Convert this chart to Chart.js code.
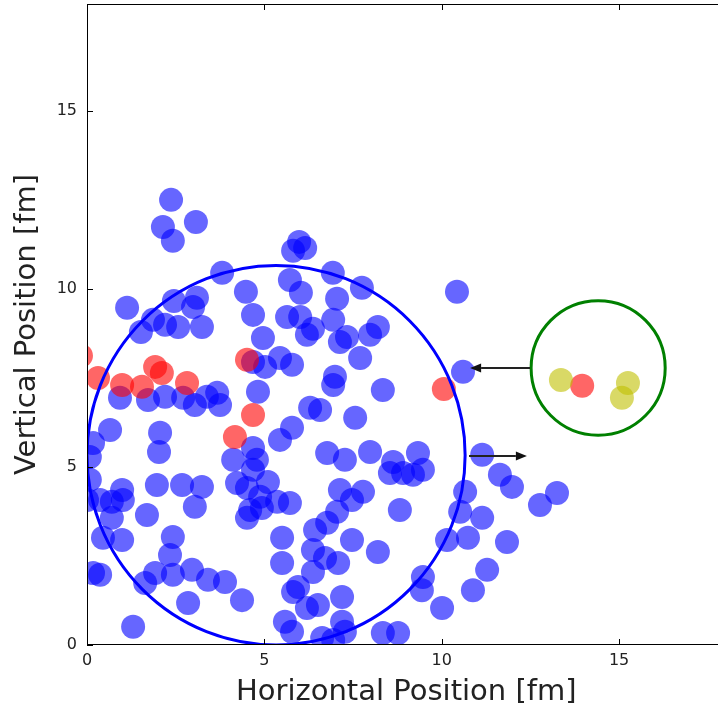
<!DOCTYPE html>
<html>
<head>
<meta charset="utf-8">
<script src="https://cdn.jsdelivr.net/npm/chart.js@4.4.0/dist/chart.umd.min.js"></script>
<style>
  html, body { margin: 0; padding: 0; overflow: hidden; background: #fff; }
  canvas { display: block; }
</style>
</head>
<body>
<canvas id="chart" width="730" height="713"></canvas>
<script>
// --- données (fm) ---
const blueX = [2.37, 2.14, 3.07, 2.42, 3.81, 5.98, 5.81, 6.15, 6.93, 7.75, 10.43, 4.48, 5.72, 1.13, 2.45, 3.10, 2.99, 4.68,
  6.03, 7.05, 5.64, 6.01, 6.94, 8.20, 6.37, 3.24, 2.57, 2.20, 1.52, 1.86, 4.96, 7.33, 7.98, 6.20, 7.13, 7.70,
  5.44, 5.78, 4.68, 5.02, 4.82, 6.99, 6.94, 8.34, 10.60, 0.93, 1.72, 2.20, 2.71, 3.04, 3.38, 3.67, 3.75,
  6.29, 6.57, 7.56, 5.78, 5.44, 0.65, 2.06, 0.17, 2.03, 0.08, 4.12, 4.68, 4.79, 4.68, 6.77, 7.27, 7.98,
  8.63, 8.54, 8.91, 9.33, 9.47, 9.19, 11.14, 11.64, 11.98, 13.25, 12.77, 10.66, 10.52, 11.14, 10.15, 10.74,
  11.84, 11.28, 10.88, 10.01, 9.47, 9.44, 0.99, 1.97, 2.68, 3.24, 4.23, 4.51, 4.88, 5.10, 0.08, 0.00,
  0.70, 0.37, 1.01, 0.70, 1.69, 3.04, 4.60, 4.51, 4.93, 5.36, 5.72, 0.45, 0.99, 2.42, 2.34, 0.17, 0.37,
  1.64, 1.92, 2.42, 2.96, 3.41, 3.89, 4.37, 2.85, 1.30, 5.50, 5.50, 5.58, 7.13, 7.78, 7.47, 8.82, 7.05,
  6.77, 6.43, 7.47, 8.20, 6.37, 6.71, 7.08, 6.37, 5.95, 5.81, 7.19, 6.20, 6.51, 5.78, 7.19, 7.27, 8.34,
  8.77, 6.63, 6.94];
const blueY = [12.50, 11.74, 11.88, 11.35, 10.45, 11.32, 11.07, 11.15, 10.45, 10.03, 9.92, 9.92, 10.25, 9.47, 9.66, 9.75, 9.49, 9.27,
  9.89, 9.72, 9.21, 9.21, 9.13, 8.93, 8.88, 8.93, 8.93, 8.99, 8.79, 9.13, 8.62, 8.65, 8.71, 8.71, 8.51, 8.06,
  8.06, 7.87, 7.95, 7.81, 7.11, 7.53, 7.30, 7.16, 7.67, 6.94, 6.88, 6.97, 6.94, 6.74, 6.97, 7.08, 6.74,
  6.66, 6.60, 6.38, 6.10, 5.76, 6.04, 5.96, 5.67, 5.42, 5.28, 5.20, 5.53, 5.20, 4.92, 5.39, 5.20, 5.42,
  5.14, 4.83, 4.83, 5.39, 4.92, 4.78, 5.34, 4.78, 4.44, 4.27, 3.93, 4.30, 3.74, 3.57, 2.95, 3.01,
  2.89, 2.11, 1.54, 1.04, 1.91, 1.54, 4.35, 4.49, 4.49, 4.44, 4.55, 4.41, 4.16, 4.58, 4.64, 4.07,
  4.02, 4.07, 4.07, 3.57, 3.65, 3.88, 3.79, 3.57, 3.85, 4.02, 3.99, 3.01, 2.95, 3.03, 2.53, 2.02, 1.97,
  1.74, 2.02, 1.97, 2.11, 1.83, 1.77, 1.26, 1.18, 0.51, 3.01, 2.30, 0.65, 4.35, 4.30, 4.07, 3.79, 3.74,
  3.43, 3.23, 2.95, 2.61, 2.67, 2.44, 2.30, 2.05, 1.63, 1.49, 1.35, 1.04, 1.12, 0.37, 0.65, 0.37, 0.34,
  0.34, 0.20, 0.14];

const redX = [-0.17, 0.31, 0.99, 1.55, 1.92, 2.11, 2.82, 4.51, 4.68, 4.17, 10.06, 13.96];
const redY = [8.12, 7.50, 7.30, 7.25, 7.81, 7.64, 7.36, 8.01, 6.46, 5.84, 7.19, 7.28];

const yellowX = [13.36, 15.25, 15.08];
const yellowY = [7.44, 7.36, 6.94];

// cercles : centre et rayon
const ringX = [5.33, 14.41];
const ringY = [5.33, 7.78];
const ringR = [5.33, 1.89];

// flèches : départ -> pointe
const arrowFromX = [12.49, 10.77];
const arrowToX = [10.80, 12.40];
const arrowY = [7.78, 5.31];

const tickValues = [0, 5, 10, 15];
const axisMin = 0, axisMax = 18;
const xTitle = 'Horizontal Position [fm]';
const yTitle = 'Vertical Position [fm]';

const FONT = '"DejaVu Sans", sans-serif';
const toPoints = (xs, ys) => xs.map((v, i) => ({ x: v, y: ys[i] }));

const overlay = {
  id: 'overlay',
  afterDatasetsDraw(chart) {
    const { ctx, chartArea: a, scales: { x, y } } = chart;
    const ringColors = ['#0000ff', '#008000'];

    ctx.save();
    ctx.beginPath();
    ctx.rect(a.left, a.top, a.right - a.left, a.bottom - a.top);
    ctx.clip();

    // cercles
    ringX.forEach((cx, i) => {
      const px = x.getPixelForValue(cx), py = y.getPixelForValue(ringY[i]);
      const rx = Math.abs(x.getPixelForValue(cx + ringR[i]) - px);
      const ry = Math.abs(y.getPixelForValue(ringY[i] + ringR[i]) - py);
      ctx.beginPath();
      ctx.ellipse(px, py, rx, ry, 0, 0, Math.PI * 2);
      ctx.lineWidth = 3;
      ctx.strokeStyle = ringColors[i];
      ctx.stroke();
    });

    // flèches
    arrowFromX.forEach((fx, i) => {
      const x0 = x.getPixelForValue(fx), x1 = x.getPixelForValue(arrowToX[i]);
      const py = y.getPixelForValue(arrowY[i]);
      const dir = Math.sign(x1 - x0);
      const head = 11, half = 4.5;
      ctx.beginPath();
      ctx.moveTo(x0, py);
      ctx.lineTo(x1 - dir * head, py);
      ctx.lineWidth = 2;
      ctx.strokeStyle = '#222';
      ctx.stroke();
      ctx.beginPath();
      ctx.moveTo(x1, py);
      ctx.lineTo(x1 - dir * head, py - half);
      ctx.lineTo(x1 - dir * head, py + half);
      ctx.closePath();
      ctx.fillStyle = '#111';
      ctx.fill();
    });
    ctx.restore();

    // cadre et graduations vers l'intérieur
    ctx.save();
    ctx.strokeStyle = '#000';
    ctx.lineWidth = 1;
    ctx.strokeRect(Math.round(a.left) + 0.5, Math.round(a.top) + 0.5,
      Math.round(a.right - a.left), Math.round(a.bottom - a.top) - 1);
    ctx.beginPath();
    tickValues.forEach(v => {
      const px = Math.round(x.getPixelForValue(v)) + 0.5;
      const py = Math.round(y.getPixelForValue(v)) + 0.5;
      ctx.moveTo(px, a.bottom); ctx.lineTo(px, a.bottom - 6);
      ctx.moveTo(px, a.top); ctx.lineTo(px, a.top + 6);
      ctx.moveTo(a.left, py); ctx.lineTo(a.left + 6, py);
      ctx.moveTo(a.right, py); ctx.lineTo(a.right - 6, py);
    });
    ctx.stroke();

    // titres des axes
    ctx.fillStyle = '#222';
    ctx.font = '29px ' + FONT;
    ctx.textAlign = 'center';
    ctx.textBaseline = 'middle';
    ctx.fillText(xTitle, (a.left + a.right) / 2, 692);
    ctx.translate(27, (a.top + a.bottom) / 2);
    ctx.rotate(-Math.PI / 2);
    ctx.fillText(yTitle, 0, 0);
    ctx.restore();
  }
};

const axis = (padding) => ({
  type: 'linear',
  min: axisMin,
  max: axisMax,
  grid: { display: false, drawTicks: false },
  border: { display: false },
  ticks: { autoSkip: false, padding, color: '#222', font: { family: FONT, size: 16 } },
  afterBuildTicks: s => { s.ticks = tickValues.map(v => ({ value: v })); }
});

const xAxis = axis(6);
xAxis.afterFit = s => { s.height = 68; s.paddingLeft = 0; s.paddingRight = 0; };
const yAxis = axis(10);
yAxis.afterFit = s => { s.width = 87; s.paddingTop = 0; s.paddingBottom = 0; };

new Chart(document.getElementById('chart'), {
  type: 'scatter',
  data: {
    datasets: [
      { data: toPoints(yellowX, yellowY), backgroundColor: 'rgba(191,191,0,0.6)', order: 0 },
      { data: toPoints(redX, redY), backgroundColor: 'rgba(255,0,0,0.6)', order: 1 },
      { data: toPoints(blueX, blueY), backgroundColor: 'rgba(0,0,255,0.6)', order: 2 }
    ].map(d => ({ ...d, pointRadius: 12, pointHoverRadius: 12, borderWidth: 0, clip: 0 }))
  },
  options: {
    responsive: false,
    animation: false,
    events: [],
    devicePixelRatio: 1,
    layout: { autoPadding: false, padding: { top: 4, right: 4.5, left: 0, bottom: 0 } },
    scales: { x: xAxis, y: yAxis },
    plugins: { legend: { display: false }, tooltip: { enabled: false } }
  },
  plugins: [overlay]
});
</script>
</body>
</html>
